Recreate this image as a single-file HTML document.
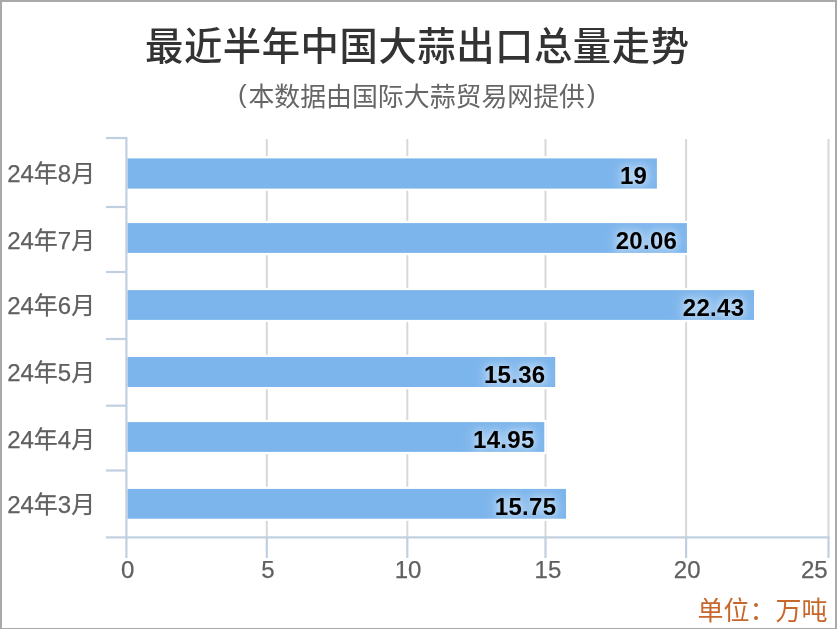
<!DOCTYPE html>
<html lang="zh-CN">
<head>
<meta charset="utf-8">
<title>最近半年中国大蒜出口总量走势</title>
<style>
html,body{margin:0;padding:0;background:#fff;}
body{width:837px;height:629px;overflow:hidden;position:relative;font-family:"Liberation Sans","Noto Sans CJK SC",sans-serif;}
#chart{position:absolute;left:0;top:0;width:837px;height:629px;box-sizing:border-box;border:2px solid #a9a9a9;border-bottom-width:1.5px;background:#fff;}
svg{position:absolute;left:0;top:0;}
.t{position:absolute;white-space:nowrap;line-height:1;}
.title{font-family:"Noto Sans CJK SC","Liberation Sans",sans-serif;font-weight:500;font-size:38.3px;letter-spacing:.6px;color:#333;left:145px;top:24.5px;}
.sub{font-size:25.9px;color:#666;left:238px;top:85px;}
.sub i{font-style:normal;position:relative;top:-3px;display:inline-block;}
.sub i.l{margin-right:1.8px;}
.sub i.r{margin-left:2px;}
.yl{font-size:24px;color:#606060;-webkit-text-stroke:.25px #606060;text-align:right;width:95.2px;left:0;}
.xl{font-size:24px;color:#606060;-webkit-text-stroke:.25px #606060;text-align:center;width:60px;}
.dl{font-size:24px;letter-spacing:.3px;margin-left:.3px;font-weight:bold;color:#000;text-align:right;width:120px;text-shadow:0 0 14px rgba(255,255,255,.9),0 0 7px rgba(255,255,255,.55);}
.cr{font-size:26px;color:#c8672b;right:9.5px;top:598px;}
</style>
</head>
<body>
<div id="chart"></div>

<svg width="837" height="629" viewBox="0 0 837 629">
<rect x="265.8" y="139" width="2" height="398" fill="#d8d8d8"/>
<rect x="406.3" y="139" width="2" height="398" fill="#d8d8d8"/>
<rect x="544.5" y="139" width="2" height="398" fill="#d8d8d8"/>
<rect x="685.1" y="139" width="2" height="398" fill="#d8d8d8"/>
<rect x="827.5" y="139" width="2" height="398" fill="#d8d8d8"/>
<rect x="125" y="156.2" width="534.1" height="34.6" fill="#fff"/>
<rect x="127.4" y="158.4" width="529.5" height="30.2" fill="#7cb5ec"/>
<rect x="125" y="220.9" width="564.1" height="34.2" fill="#fff"/>
<rect x="127.4" y="223.1" width="559.5" height="29.8" fill="#7cb5ec"/>
<rect x="125" y="287.9" width="631.2" height="34.2" fill="#fff"/>
<rect x="127.4" y="290.1" width="626.6" height="29.8" fill="#7cb5ec"/>
<rect x="125" y="354.8" width="432.4" height="34.4" fill="#fff"/>
<rect x="127.4" y="357.0" width="427.8" height="30.0" fill="#7cb5ec"/>
<rect x="125" y="419.9" width="421.5" height="34.2" fill="#fff"/>
<rect x="127.4" y="422.1" width="416.9" height="29.8" fill="#7cb5ec"/>
<rect x="125" y="486.7" width="443.2" height="34.2" fill="#fff"/>
<rect x="127.4" y="488.9" width="438.6" height="29.8" fill="#7cb5ec"/>
<rect x="125.3" y="137" width="2.2" height="421" fill="#c0d0e0"/>
<rect x="106" y="536.3" width="723.6" height="2.2" fill="#c0d0e0"/>
<rect x="106" y="136.9" width="20" height="2.2" fill="#c0d0e0"/>
<rect x="106" y="205.9" width="20" height="2.2" fill="#c0d0e0"/>
<rect x="106" y="270.9" width="20" height="2.2" fill="#c0d0e0"/>
<rect x="106" y="337.9" width="20" height="2.2" fill="#c0d0e0"/>
<rect x="106" y="404.6" width="20" height="2.2" fill="#c0d0e0"/>
<rect x="106" y="469.4" width="20" height="2.2" fill="#c0d0e0"/>
<rect x="265.7" y="537" width="2.2" height="21" fill="#c0d0e0"/>
<rect x="406.2" y="537" width="2.2" height="21" fill="#c0d0e0"/>
<rect x="544.4" y="537" width="2.2" height="21" fill="#c0d0e0"/>
<rect x="685.0" y="537" width="2.2" height="21" fill="#c0d0e0"/>
<rect x="827.4" y="537" width="2.2" height="21" fill="#c0d0e0"/>
</svg>
<div class="t title">最近半年中国大蒜出口总量走势</div>
<div class="t sub"><i class="l">(</i>本数据由国际大蒜贸易网提供<i class="r">)</i></div>
<div class="t yl" style="top:162px">24年8月</div>
<div class="t dl" style="left:526.9px;top:164.0px">19</div>
<div class="t yl" style="top:229px">24年7月</div>
<div class="t dl" style="left:556.9px;top:229.0px">20.06</div>
<div class="t yl" style="top:294px">24年6月</div>
<div class="t dl" style="left:624.0px;top:296.0px">22.43</div>
<div class="t yl" style="top:361px">24年5月</div>
<div class="t dl" style="left:425.2px;top:363.0px">15.36</div>
<div class="t yl" style="top:428px">24年4月</div>
<div class="t dl" style="left:414.3px;top:428.0px">14.95</div>
<div class="t yl" style="top:493px">24年3月</div>
<div class="t dl" style="left:436.0px;top:495.0px">15.75</div>
<div class="t xl" style="left:97.6px;top:558px">0</div>
<div class="t xl" style="left:237.9px;top:558px">5</div>
<div class="t xl" style="left:378.1px;top:558px">10</div>
<div class="t xl" style="left:517.9px;top:558px">15</div>
<div class="t xl" style="left:657.2px;top:558px">20</div>
<div class="t xl" style="left:767.7px;top:558px;text-align:right">25</div>
<div class="t cr">单位：万吨</div>
</body>
</html>
